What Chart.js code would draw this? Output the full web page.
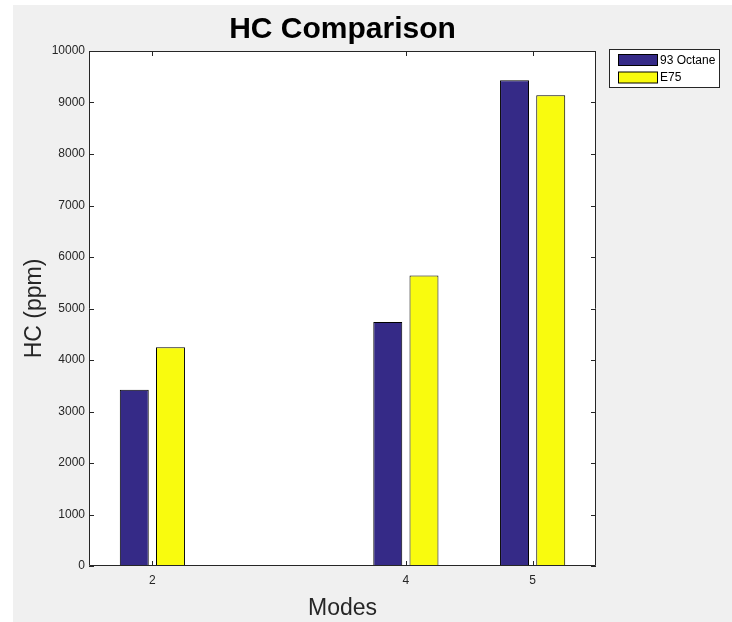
<!DOCTYPE html>
<html>
<head>
<meta charset="utf-8">
<title>HC Comparison</title>
<script src="https://cdn.jsdelivr.net/npm/chart.js@4.4.1/dist/chart.umd.min.js"></script>
<style>
  html, body { margin: 0; padding: 0; background: #ffffff; }
  #wrap { position: relative; width: 732px; height: 622px; }
  canvas { display: block; }
</style>
</head>
<body>
<div id="wrap"><canvas id="c" width="732" height="622"></canvas></div>
<script>
// Operating modes and measured hydrocarbon readings (ppm)
const modes = [2, 4, 5];
const octane93 = [3420, 4740, 9430];
const e75 = [4250, 5640, 9140];
const seriesNames = ['93 Octane', 'E75'];
const yTicks = [0, 1000, 2000, 3000, 4000, 5000, 6000, 7000, 8000, 9000, 10000];

const axisInk = '#262626';
const fontFamily = '"Liberation Sans", Arial, sans-serif';
const tickFont = '12px ' + fontFamily;

function points(vals) {
  return modes.map((m, i) => ({ x: m, y: vals[i] }));
}

// Figure background, white axes box, box outline, inward tick marks,
// tick labels, titles and legend
const matlabFrame = {
  id: 'matlabFrame',
  beforeDraw(chart) {
    const { ctx, chartArea: a } = chart;
    ctx.save();
    ctx.fillStyle = '#ffffff';
    ctx.fillRect(0, 0, chart.width, chart.height);
    ctx.fillStyle = '#f0f0f0';
    ctx.fillRect(13, 5, chart.width - 13, chart.height - 5);
    ctx.fillStyle = '#ffffff';
    ctx.fillRect(a.left, a.top, a.right - a.left, a.bottom - a.top);
    ctx.restore();
  },
  afterDraw(chart) {
    const { ctx, chartArea: a, scales } = chart;
    const xs = scales.x, ys = scales.y;
    const tl = 5;
    ctx.save();
    ctx.strokeStyle = axisInk;
    ctx.lineWidth = 1;
    ctx.beginPath();
    ctx.rect(Math.round(a.left) + 0.5, Math.round(a.top) + 0.5,
             Math.round(a.right - a.left) - 1, Math.round(a.bottom - a.top) - 1);
    ctx.stroke();
    ctx.beginPath();
    xs.ticks.forEach(t => {
      const px = Math.round(xs.getPixelForValue(t.value)) + 0.5;
      ctx.moveTo(px, a.bottom); ctx.lineTo(px, a.bottom - tl);
      ctx.moveTo(px, a.top); ctx.lineTo(px, a.top + tl);
    });
    ys.ticks.forEach(t => {
      const py = Math.round(ys.getPixelForValue(t.value)) + 0.5;
      ctx.moveTo(a.left, py); ctx.lineTo(a.left + tl, py);
      ctx.moveTo(a.right, py); ctx.lineTo(a.right - tl, py);
    });
    ctx.stroke();

    // Tick labels
    ctx.fillStyle = axisInk;
    ctx.font = tickFont;
    ctx.textAlign = 'center';
    ctx.textBaseline = 'middle';
    xs.ticks.forEach(t => {
      ctx.fillText(String(t.value), xs.getPixelForValue(t.value), a.bottom + 15);
    });
    ctx.textAlign = 'right';
    ys.ticks.forEach(t => {
      ctx.fillText(String(t.value), a.left - 4, ys.getPixelForValue(t.value));
    });

    // Titles
    const cx = (a.left + a.right) / 2;
    ctx.fillStyle = '#000000';
    ctx.textAlign = 'center';
    ctx.textBaseline = 'alphabetic';
    ctx.font = 'bold 30px ' + fontFamily;
    ctx.fillText('HC Comparison', cx, 38);
    ctx.fillStyle = axisInk;
    ctx.font = '23px ' + fontFamily;
    ctx.fillText('Modes', cx, 615);
    ctx.save();
    ctx.translate(41, (a.top + a.bottom) / 2);
    ctx.rotate(-Math.PI / 2);
    ctx.fillText('HC (ppm)', 0, 0);
    ctx.restore();

    // Legend
    const lx = 609, ly = 49, lw = 111, lh = 39;
    ctx.fillStyle = '#ffffff';
    ctx.fillRect(lx, ly, lw, lh);
    ctx.strokeStyle = axisInk;
    ctx.strokeRect(lx + 0.5, ly + 0.5, lw - 1, lh - 1);
    ctx.font = tickFont;
    ctx.textAlign = 'left';
    ctx.textBaseline = 'middle';
    chart.data.datasets.forEach((ds, i) => {
      const sy = 54 + i * 17.5;
      ctx.fillStyle = ds.backgroundColor;
      ctx.fillRect(618.5, sy + 0.5, 39, 11);
      ctx.strokeStyle = '#000000';
      ctx.strokeRect(618.5, sy + 0.5, 39, 11);
      ctx.fillStyle = '#000000';
      ctx.fillText(ds.label, 660, sy + 6.5);
    });
    ctx.restore();
  }
};

new Chart(document.getElementById('c'), {
  type: 'bar',
  data: {
    datasets: [
      { label: seriesNames[0], data: points(octane93), backgroundColor: '#352a87',
        borderColor: '#000000', borderWidth: 1, borderSkipped: false },
      { label: seriesNames[1], data: points(e75), backgroundColor: '#f9fb0e',
        borderColor: '#000000', borderWidth: 1, borderSkipped: false }
    ]
  },
  options: {
    responsive: false,
    animation: false,
    devicePixelRatio: 1,
    categoryPercentage: 0.5714,
    barPercentage: 0.8,
    layout: { padding: { left: 89, top: 51, right: 136, bottom: 56 } },
    plugins: {
      legend: { display: false },
      title: { display: false },
      tooltip: { enabled: false }
    },
    scales: {
      x: {
        type: 'linear',
        min: 1.5,
        max: 5.5,
        offset: false,
        grid: { display: false, drawTicks: false, offset: false },
        border: { display: false },
        afterBuildTicks(scale) { scale.ticks = modes.map(v => ({ value: v })); },
        afterFit(scale) { scale.height = 0; },
        ticks: { display: false }
      },
      y: {
        min: 0,
        max: 10000,
        grid: { display: false, drawTicks: false },
        border: { display: false },
        afterBuildTicks(scale) { scale.ticks = yTicks.map(v => ({ value: v })); },
        afterFit(scale) { scale.width = 0; },
        ticks: { display: false }
      }
    }
  },
  plugins: [matlabFrame]
});
</script>
</body>
</html>
